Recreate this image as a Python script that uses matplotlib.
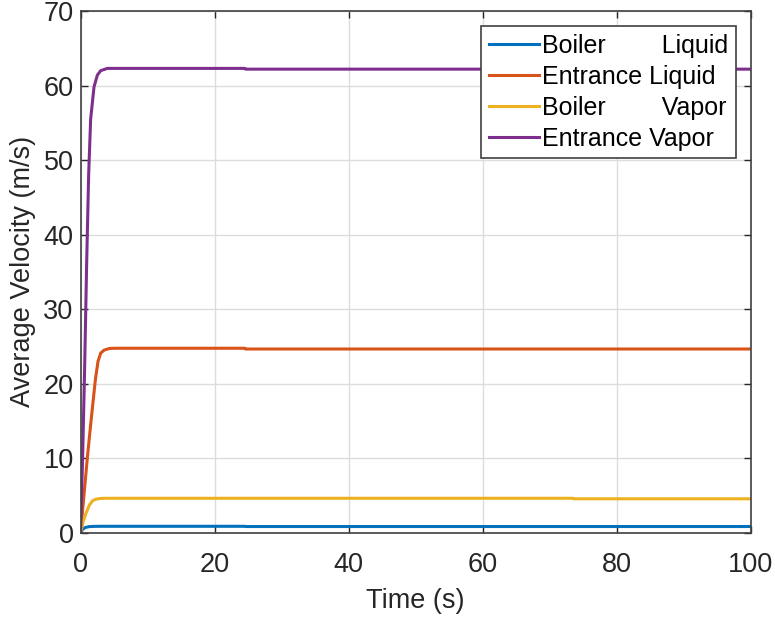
import matplotlib
matplotlib.use("Agg")
import matplotlib.pyplot as plt
import numpy as np

plt.rcParams['font.family'] = ['Liberation Sans', 'DejaVu Sans']

# Data
t_blue = [0, 0.3, 0.7, 1.3, 2.0, 3.0, 24.5, 24.6, 100]
v_blue = [0, 0.45, 0.70, 0.82, 0.85, 0.86, 0.86, 0.83, 0.83]

t_orange = [0, 0.5, 1.0, 1.5, 2.2, 2.6, 3.0, 3.5, 4.3, 5.0, 24.5, 24.6, 100]
v_orange = [0, 5.0, 10.0, 14.5, 20.5, 23.0, 24.1, 24.5, 24.72, 24.75, 24.75, 24.65, 24.65]

t_yellow = [0, 0.4, 0.8, 1.3, 1.8, 2.3, 3.0, 4.0, 73.5, 73.6, 100]
v_yellow = [0, 1.5, 2.6, 3.7, 4.3, 4.5, 4.6, 4.62, 4.62, 4.55, 4.55]

t_purple = [0, 0.3, 0.6, 0.9, 1.2, 1.5, 2.0, 2.5, 3.0, 4.0, 24.5, 24.6, 100]
v_purple = [0, 10.0, 22.0, 36.0, 48.0, 55.5, 59.8, 61.4, 62.0, 62.3, 62.3, 62.2, 62.2]

labels = ["Boiler        Liquid", "Entrance Liquid", "Boiler        Vapor", "Entrance Vapor"]
colors = ["#0072BD", "#D95319", "#EDB120", "#7E2F8E"]

xticks = [0, 20, 40, 60, 80, 100]
yticks = [0, 10, 20, 30, 40, 50, 60, 70]

fig = plt.figure(figsize=(7.75, 6.19), dpi=100)
ax = fig.add_axes([0.104, 0.1394, 0.8647, 0.8428])

series = [(t_blue, v_blue), (t_orange, v_orange), (t_yellow, v_yellow), (t_purple, v_purple)]
for (t, v), lab, c in zip(series, labels, colors):
    ax.plot(t, v, color=c, lw=2.2, label=lab)

ax.set_xlim(0, 100)
ax.set_ylim(0, 70)
ax.set_xticks(xticks)
ax.set_yticks(yticks)
ax.grid(True, color="#DCDCDC", lw=1.0)
ax.set_axisbelow(True)
ax.tick_params(direction='in', top=True, right=True, length=5, width=1,
               colors="#262626", labelsize=19.5)
ax.tick_params(axis='x', pad=14)
ax.tick_params(axis='y', pad=5)
for s in ax.spines.values():
    s.set_color("#404040")
    s.set_linewidth(1.2)

ax.set_xlabel("Time (s)", fontsize=19.5, color="#262626", labelpad=7)
ax.set_ylabel("Average Velocity (m/s)", fontsize=19.5, color="#262626", labelpad=5)

leg = ax.legend(loc='upper right', bbox_to_anchor=(0.978, 0.971), borderaxespad=0,
                fontsize=18, handlelength=2.0, handletextpad=0.15, labelspacing=0.28,
                borderpad=0.3, fancybox=False, framealpha=1, edgecolor="#404040")
leg.get_frame().set_linewidth(1.2)

fig.savefig("out.png", dpi=100)
